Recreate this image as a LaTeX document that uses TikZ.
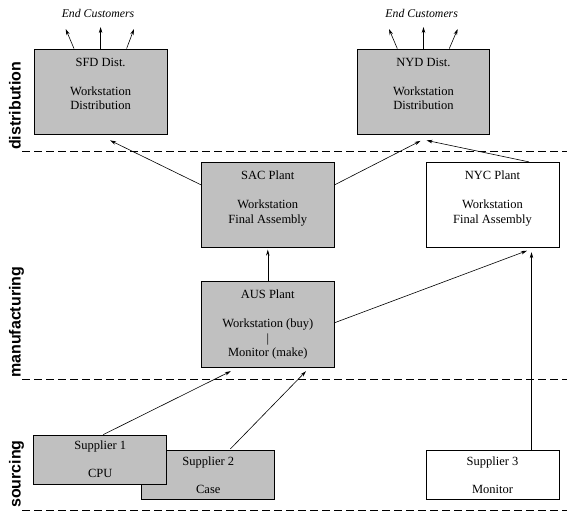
\documentclass[tikz,border=0pt]{standalone}
\usepackage{fontspec}
\setmainfont{Liberation Serif}
\newfontfamily\lanefont{Liberation Sans}
\usetikzlibrary{arrows.meta}
\definecolor{boxgray}{HTML}{C0C0C0}
\begin{document}
\begin{tikzpicture}[x=1pt,y=-1pt,
  box/.style={draw, line width=0.8pt, inner sep=0pt, minimum width=133pt},
  greybox/.style={box, fill=boxgray},
  whitebox/.style={box, fill=white},
  txt/.style={anchor=north, inner sep=0pt, align=center, font=\fontsize{12.5}{14.5}\selectfont},
  ec/.style={inner sep=0pt, font=\fontsize{11.8}{14}\selectfont\itshape},
  conn/.style={line width=0.6pt, -{Stealth[length=6pt,width=3.5pt]}},
  lane/.style={rotate=90, anchor=base west, inner sep=0pt, font=\fontsize{16}{18}\selectfont\lanefont\bfseries},
  dashline/.style={line width=0.7pt, dash pattern=on 8pt off 4pt}
]
\useasboundingbox (0,0) rectangle (573,522);

% lane separators
\draw[dashline] (22,151) -- (567,151);
\draw[dashline] (22,379) -- (567,379);
\draw[dashline] (22,510) -- (567,510);

% lane labels
\node[lane] (ldist) at (20.5,150) {distribution};
\node[lane] (lmanu) at (20.5,378) {manufacturing};
\node[lane] (lsrc) at (20.5,508) {sourcing};

% boxes
\node[greybox, minimum height=85pt] (sfd) at (100.6,91.5) {};
\node[greybox, minimum height=85pt, minimum width=132pt] (nyd) at (423.5,91.5) {};
\node[greybox, minimum height=85pt] (sac) at (267.8,204.8) {};
\node[whitebox, minimum height=85pt] (nyc) at (492.5,204.8) {};
\node[greybox, minimum height=86pt] (aus) at (267.8,324.3) {};
\node[greybox, minimum height=49pt] (sup2) at (208.3,475.3) {};
\node[greybox, minimum height=49pt] (sup1) at (100.3,459.5) {};
\node[whitebox, minimum height=49pt] (sup3) at (492.5,475.1) {};

% box texts
\node[txt] (sfdt) at ([yshift=-9pt]sfd.north) {SFD Dist.\\[14.5pt]Workstation\\Distribution};
\node[txt] (nydt) at ([yshift=-9pt]nyd.north) {NYD Dist.\\[14.5pt]Workstation\\Distribution};
\node[txt] (sact) at ([yshift=-9pt]sac.north) {SAC Plant\\[14.5pt]Workstation\\Final Assembly};
\node[txt] (nyct) at ([yshift=-9pt]nyc.north) {NYC Plant\\[14.5pt]Workstation\\Final Assembly};
\node[txt] (aust) at ([yshift=-9pt]aus.north) {AUS Plant\\[14.5pt]Workstation (buy)\\|\\Monitor (make)};
\node[txt] (sup1t) at ([yshift=-6pt]sup1.north) {Supplier 1\\[13.5pt]CPU};
\node[txt] (sup2t) at ([yshift=-6pt]sup2.north) {Supplier 2\\[13.5pt]Case};
\node[txt] (sup3t) at ([yshift=-6pt]sup3.north) {Supplier 3\\[13.5pt]Monitor};

% end customers
\node[ec] (ec1) at (98,13) {End Customers};
\node[ec] (ec2) at (421.7,13) {End Customers};
\coordinate (c1) at (65.7,29);
\coordinate (c2) at (100.6,27);
\coordinate (c3) at (134,29);
\coordinate (c4) at (389,29);
\coordinate (c5) at (423.5,27);
\coordinate (c6) at (457.7,29);
\draw[conn] ([xshift=-26.6pt]sfd.north) -- (c1);
\draw[conn] (sfd.north) -- (c2);
\draw[conn] ([xshift=26pt]sfd.north) -- (c3);
\draw[conn] ([xshift=-26.2pt]nyd.north) -- (c4);
\draw[conn] (nyd.north) -- (c5);
\draw[conn] ([xshift=25.8pt]nyd.north) -- (c6);

% flows
\draw[conn] ([yshift=20pt]sac.west) -- ([xshift=9.5pt,yshift=-6pt]sfd.south);
\draw[conn] ([yshift=20pt]sac.east) -- ([xshift=-3pt,yshift=-6.5pt]nyd.south);
\draw[conn] ([xshift=36.5pt]nyc.north) -- ([xshift=3pt,yshift=-6pt]nyd.south);
\draw[conn] (aus.north) -- ([yshift=-2pt]sac.south);
\draw[conn] ([yshift=1.6pt]aus.east) -- ([xshift=34.5pt,yshift=-3pt]nyc.south);
\draw[conn] ([xshift=39pt]sup3.north) -- ([xshift=39pt,yshift=-4.5pt]nyc.south);
\draw[conn] ([xshift=3pt]sup1.north) -- ([xshift=-37pt,yshift=-3.5pt]aus.south);
\draw[conn] ([xshift=22pt,yshift=1.4pt]sup2.north) -- ([xshift=38.2pt,yshift=-3.5pt]aus.south);
\end{tikzpicture}
\end{document}
